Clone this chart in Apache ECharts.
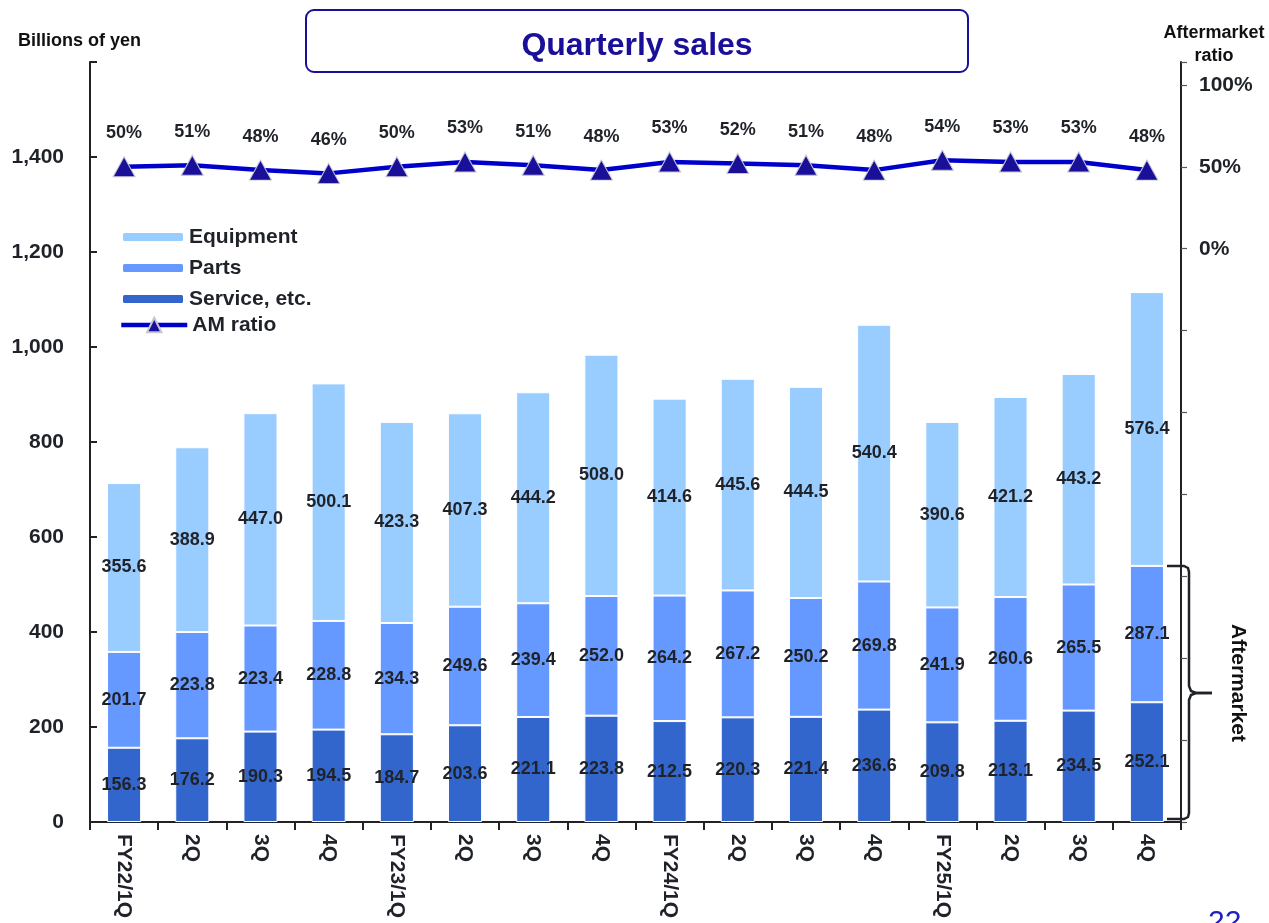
<!DOCTYPE html>
<html>
<head>
<meta charset="utf-8">
<script src="https://cdn.jsdelivr.net/npm/echarts@6/dist/echarts.min.js"></script>
<style>
  html, body { margin: 0; padding: 0; background: #fff; }
  #chart { width: 1269px; height: 923px; }
</style>
</head>
<body>
<div id="chart"></div>
<script>
var quarters = ['FY22/1Q', '2Q', '3Q', '4Q', 'FY23/1Q', '2Q', '3Q', '4Q', 'FY24/1Q', '2Q', '3Q', '4Q', 'FY25/1Q', '2Q', '3Q', '4Q'];
var service = [156.3, 176.2, 190.3, 194.5, 184.7, 203.6, 221.1, 223.8, 212.5, 220.3, 221.4, 236.6, 209.8, 213.1, 234.5, 252.1];
var parts = [201.7, 223.8, 223.4, 228.8, 234.3, 249.6, 239.4, 252.0, 264.2, 267.2, 250.2, 269.8, 241.9, 260.6, 265.5, 287.1];
var equipment = [355.6, 388.9, 447.0, 500.1, 423.3, 407.3, 444.2, 508.0, 414.6, 445.6, 444.5, 540.4, 390.6, 421.2, 443.2, 576.4];
var amRatio = [50, 51, 48, 46, 50, 53, 51, 48, 53, 52, 51, 48, 54, 53, 53, 48];
var leftTicks = [0, 200, 400, 600, 800, 1000, 1200, 1400];
var rightTicks = [0, 50, 100];

var font = 'Liberation Sans, Arial, sans-serif';
var textDark = '#1f2329';

var chart = echarts.init(document.getElementById('chart'));

var barLabel = {
	show: true,
	position: 'inside',
	color: textDark,
	fontFamily: font,
	fontWeight: 'bold',
	fontSize: 18,
	formatter: function (p) { return p.value.toFixed(1); }
};

function barSeries(name, data, color) {
	return {
		name: name,
		type: 'bar',
		stack: 'sales',
		data: data,
		barWidth: '50%',
		itemStyle: { color: color, borderColor: '#ffffff', borderWidth: 1 },
		label: barLabel
	};
}

var legendText = { color: textDark, fontWeight: 'bold', fontSize: 21, fontFamily: font, lineHeight: 22 };

chart.setOption({
	animation: false,
	textStyle: { fontFamily: font },
	grid: { left: 90, right: 88, top: 62, bottom: 101, containLabel: false },
	legend: [
		{
			orient: 'vertical',
			left: 116,
			top: 221,
			itemWidth: 62,
			itemHeight: 10,
			itemGap: 9,
			data: ['Equipment', 'Parts', 'Service, etc.'],
			textStyle: legendText
		},
		{
			left: 114,
			top: 309,
			itemWidth: 66,
			itemHeight: 18,
			itemGap: 9,
			data: ['AM ratio'],
			lineStyle: { width: 4.5 },
			textStyle: legendText
		}
	],
	xAxis: {
		type: 'category',
		data: quarters,
		axisLine: { lineStyle: { color: '#222', width: 2 } },
		axisTick: { show: true, length: 8, lineStyle: { color: '#222', width: 2 } },
		axisLabel: {
			rotate: -90,
			margin: 12,
			interval: 0,
			color: textDark,
			fontWeight: 'bold',
			fontSize: 21,
			fontFamily: font
		}
	},
	yAxis: [
		{
			type: 'value',
			min: 0,
			max: 1600,
			interval: 200,
			splitLine: { show: false },
			axisLine: { show: true, lineStyle: { color: '#222', width: 2 } },
			axisTick: { show: true, inside: true, length: 7, lineStyle: { color: '#222', width: 2 } },
			axisLabel: {
				margin: 26,
				color: textDark,
				fontWeight: 'bold',
				fontSize: 21,
				fontFamily: font,
				formatter: function (v) {
					return leftTicks.indexOf(v) >= 0 ? v.toLocaleString('en-US') : '';
				}
			}
		},
		{
			type: 'value',
			min: -350,
			max: 114,
			interval: 50,
			position: 'right',
			splitLine: { show: false },
			axisLine: { show: true, lineStyle: { color: '#222', width: 2 } },
			axisTick: { show: true, length: 6, lineStyle: { color: '#555', width: 1.2 } },
			axisLabel: {
				margin: 18,
				color: textDark,
				fontWeight: 'bold',
				fontSize: 21,
				fontFamily: font,
				formatter: function (v) {
					return rightTicks.indexOf(v) >= 0 ? v + '%' : '';
				}
			}
		}
	],
	series: [
		barSeries('Service, etc.', service, '#3366CC'),
		barSeries('Parts', parts, '#6699FF'),
		barSeries('Equipment', equipment, '#99CCFF'),
		{
			name: 'AM ratio',
			type: 'line',
			yAxisIndex: 1,
			data: amRatio,
			z: 10,
			symbol: 'triangle',
			symbolSize: [22, 20],
			lineStyle: { color: '#0000CC', width: 4.5 },
			itemStyle: { color: '#1A0F99', borderColor: '#c4c6d4', borderWidth: 1 },
			label: {
				show: true,
				position: 'top',
				distance: 14,
				color: textDark,
				fontWeight: 'bold',
				fontSize: 18,
				fontFamily: font,
				formatter: '{c}%'
			}
		}
	]
});

// bracket marking the aftermarket part (service + parts) of the last bar
var last = quarters.length - 1;
var yTop = Math.round(chart.convertToPixel({ yAxisIndex: 0 }, service[last] + parts[last]));
var yBot = Math.round(chart.convertToPixel({ yAxisIndex: 0 }, 0)) - 3;
var yMid = Math.round((yTop + yBot) / 2);
var bx = 1189;
var bracketStyle = { fill: null, stroke: '#1f2329', lineWidth: 2.5 };

chart.setOption({
	graphic: [
		{
			type: 'rect',
			shape: { x: 306, y: 10, width: 662, height: 62, r: 8 },
			style: { fill: '#ffffff', stroke: '#1A0F99', lineWidth: 2 }
		},
		{
			type: 'text',
			x: 637,
			y: 46,
			style: { text: 'Quarterly sales', fill: '#1A0F99', font: 'bold 32px ' + font, textAlign: 'center', textVerticalAlign: 'middle' }
		},
		{
			type: 'text',
			x: 18,
			y: 41,
			style: { text: 'Billions of yen', fill: '#111', font: 'bold 18px ' + font, textAlign: 'left', textVerticalAlign: 'middle' }
		},
		{
			type: 'text',
			x: 1214,
			y: 22,
			style: { text: 'Aftermarket\nratio', fill: '#111', font: 'bold 18px ' + font, lineHeight: 23, textAlign: 'center', textVerticalAlign: 'top' }
		},
		{
			type: 'polyline',
			shape: {
				points: [
					[1167, yTop], [bx - 5, yTop], [bx - 1, yTop + 2], [bx, yTop + 6],
					[bx, yMid - 7], [bx + 2, yMid - 2], [bx + 7, yMid], [1212, yMid]
				]
			},
			style: bracketStyle
		},
		{
			type: 'polyline',
			shape: {
				points: [
					[1212, yMid], [bx + 7, yMid], [bx + 2, yMid + 2], [bx, yMid + 7],
					[bx, yBot - 6], [bx - 1, yBot - 2], [bx - 5, yBot], [1167, yBot]
				]
			},
			style: bracketStyle
		},
		{
			type: 'text',
			x: 1238,
			y: yMid - 10,
			rotation: -Math.PI / 2,
			style: { text: 'Aftermarket', fill: '#111', font: 'bold 21px ' + font, textAlign: 'center', textVerticalAlign: 'middle' }
		},
		{
			type: 'text',
			x: 1208,
			y: 908,
			style: { text: '22', fill: '#2020C0', font: '30px ' + font, textAlign: 'left', textVerticalAlign: 'top' }
		}
	]
});
</script>
</body>
</html>
